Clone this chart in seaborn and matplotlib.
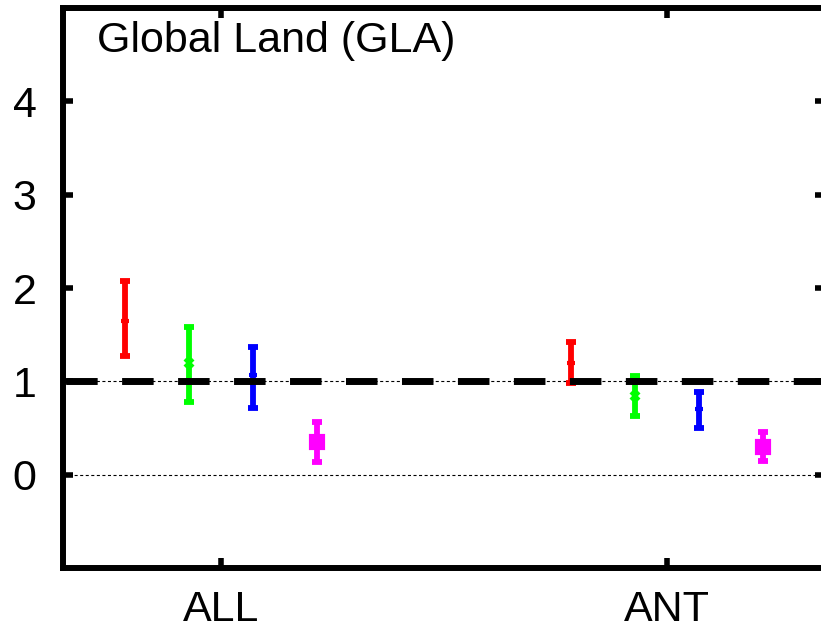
import numpy as np
import pandas as pd
import matplotlib
matplotlib.use("Agg")
import matplotlib.pyplot as plt
import seaborn as sns

# Forcing groups on the x axis and the four estimates drawn for each
groups = ["ALL", "ANT"]
series = ["s1", "s2", "s3", "s4"]
colors = ["#ff0000", "#00ff00", "#0000ff", "#ff00ff"]
markers = ["+", "x", "+", "s"]

# Scaling factors: best estimate with lower / upper bounds
best_all = [1.65, 1.20, 1.07, 0.35]
lo_all = [1.27, 0.78, 0.71, 0.14]
hi_all = [2.07, 1.58, 1.37, 0.56]

best_ant = [1.20, 0.84, 0.70, 0.30]
lo_ant = [0.98, 0.63, 0.50, 0.15]
hi_ant = [1.42, 1.06, 0.89, 0.46]

yticks = [0, 1, 2, 3, 4]
title = "Global Land (GLA)"

# Long table: three rows (low, best, high) per group/series
rows = []
for g, b, lo, hi in [("ALL", best_all, lo_all, hi_all), ("ANT", best_ant, lo_ant, hi_ant)]:
    for s, bb, ll, hh in zip(series, b, lo, hi):
        for v in (ll, bb, hh):
            rows.append({"group": g, "series": s, "value": v})
df = pd.DataFrame(rows)

sns.set_theme(style="ticks")
plt.rcParams["font.family"] = ["Liberation Sans", "DejaVu Sans"]
plt.rcParams["lines.scale_dashes"] = False

fig = plt.figure(figsize=(8.21, 6.31), dpi=100)
ax = fig.add_axes([63 / 821, 63 / 631, 762 / 821, 560 / 631])

sns.pointplot(
    data=df, x="group", y="value", hue="series",
    order=groups, hue_order=series, palette=colors,
    markers=markers, linestyles="none", dodge=0.43,
    estimator=np.median, errorbar=lambda v: (v.min(), v.max()),
    capsize=0.022, err_kws={"linewidth": 4.2, "solid_capstyle": "butt"},
    markersize=6, markeredgewidth=3, legend=False, ax=ax,
)

# The filled square is drawn a little larger than the line markers
for ln in ax.lines:
    if ln.get_marker() == "s":
        ln.set_markersize(8)

# Reference lines: zero and unit scaling
ax.axhline(0, color="black", lw=0.8, linestyle=(0, (2.2, 1.8)), zorder=1)
ax.axhline(1, color="black", lw=0.8, linestyle=(0, (2.2, 1.8)), zorder=1)
ax.axhline(1, color="black", lw=5, linestyle=(38.4, (22.7, 17.6)),
           dash_capstyle="butt", zorder=6)

ax.set_xlim(-0.354, 1.354)
ax.set_ylim(-1, 5)
ax.set_yticks(yticks)
ax.set_yticklabels([str(t) for t in yticks])
ax.set_xticks([0, 1])
ax.set_xticklabels(groups)
ax.set_xlabel("")
ax.set_ylabel("")

for sp in ax.spines.values():
    sp.set_visible(True)
    sp.set_linewidth(4.3)
    sp.set_color("black")

ax.tick_params(axis="both", which="both", direction="in", length=7, width=4,
               top=True, right=True, labelsize=31, colors="black")
ax.tick_params(axis="x", pad=16)
ax.tick_params(axis="y", pad=19)

ax.text(0.0446, 0.922, title, transform=ax.transAxes, fontsize=31,
        ha="left", va="baseline", color="black")

fig.savefig("out.png", dpi=100)
